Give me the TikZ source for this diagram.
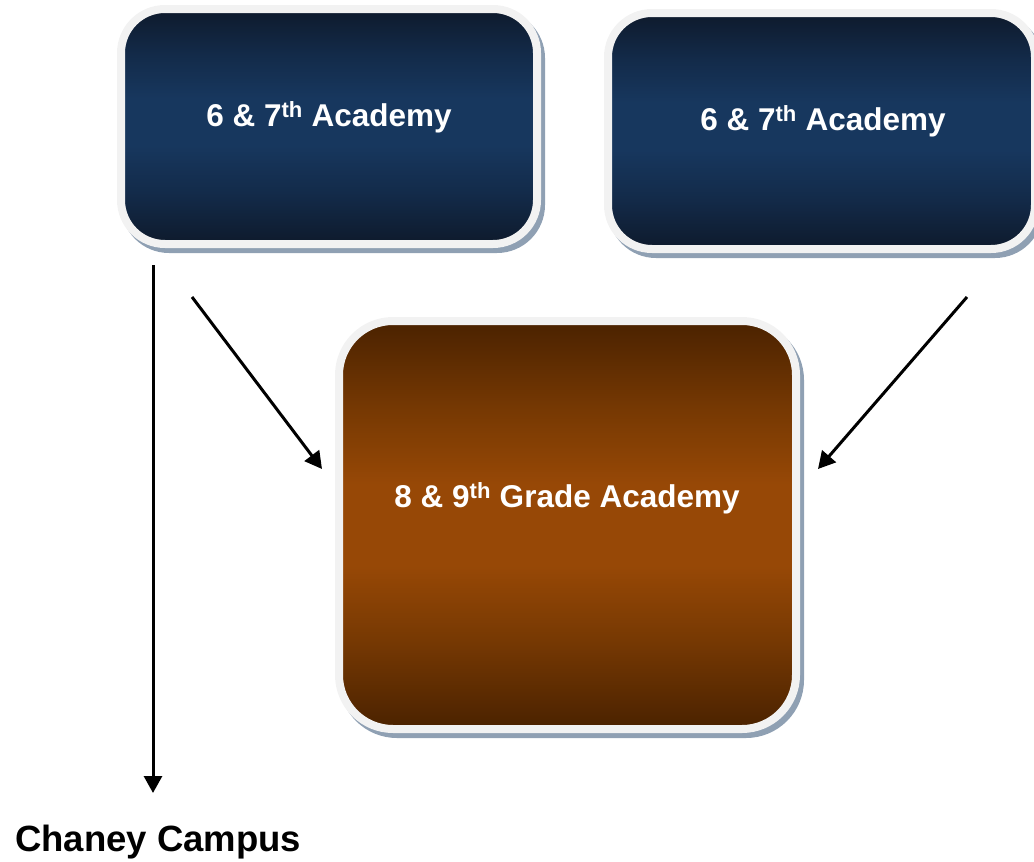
\documentclass[tikz,border=0pt]{standalone}
\usepackage{fontspec}
\setmainfont{Liberation Sans}
\usetikzlibrary{arrows.meta}
\definecolor{bluedark}{HTML}{0E1A2C}
\definecolor{bluequart}{HTML}{132B4A}
\definecolor{bluemid}{HTML}{17375E}
\definecolor{browndark}{HTML}{4A2200}
\definecolor{brownquart}{HTML}{773903}
\definecolor{brownmid}{HTML}{974806}
\definecolor{rimc}{HTML}{F2F2F2}
\definecolor{shadowc}{HTML}{8FA0B3}
\pgfdeclareverticalshading{blueshade}{100bp}{color(0bp)=(bluedark); color(25bp)=(bluedark); color(36bp)=(bluequart); color(46bp)=(bluemid); color(56bp)=(bluemid); color(65bp)=(bluequart); color(75bp)=(bluedark); color(100bp)=(bluedark)}
\pgfdeclareverticalshading{brownshade}{100bp}{color(0bp)=(browndark); color(25bp)=(browndark); color(36bp)=(brownquart); color(45bp)=(brownmid); color(55bp)=(brownmid); color(64bp)=(brownquart); color(75bp)=(browndark); color(100bp)=(browndark)}
\begin{document}
\begin{tikzpicture}[x=1pt,y=-1pt,
  boxbase/.style={rectangle, draw=rimc, line width=8pt, inner sep=0pt},
  bluebox/.style={boxbase, rounded corners=44pt, shading=blueshade},
  brownbox/.style={boxbase, rounded corners=54pt, shading=brownshade},
  shadowfill/.style={fill=shadowc},
  boxtext/.style={text=white, font=\fontsize{31.5}{38}\selectfont\bfseries, inner sep=0pt},
  campustext/.style={text=black, font=\fontsize{36.5}{44}\selectfont\bfseries, inner sep=0pt},
  conn/.style={draw=black, line width=3pt, -{Triangle[width=18pt,length=17pt]}}]
\useasboundingbox (0,0) rectangle (1034,862);
% shadows
\fill[shadowfill, rounded corners=48pt] (121,10) rectangle (545,253);
\fill[shadowfill, rounded corners=48pt] (608,14) rectangle (1043,258);
\fill[shadowfill, rounded corners=58pt] (339,322) rectangle (804,738);
% boxes
\node[bluebox, minimum width=416pt, minimum height=235pt] (b1) at (329,126.5) {};
\node[bluebox, minimum width=427pt, minimum height=236pt] (b2) at (821.5,131) {};
\node[brownbox, minimum width=457pt, minimum height=408pt] (b3) at (567.5,525) {};
% texts
\node[boxtext] (t1) at (329,117) {6 \& 7\textsuperscript{th} Academy};
\node[boxtext] (t2) at (823,121) {6 \& 7\textsuperscript{th} Academy};
\node[boxtext] (t3) at (567,498) {8 \& 9\textsuperscript{th} Grade Academy};
\node[campustext, anchor=base west] (campus) at (15,851) {Chaney Campus};
% connector ends
\coordinate (v1s) at (153,265);
\coordinate (v1e) at (153,793);
\coordinate (d1s) at (192,297);
\coordinate (d1e) at (322,469);
\coordinate (d2s) at (967,297);
\coordinate (d2e) at (818,469);
\draw[conn] (v1s) -- (v1e);
\draw[conn] (d1s) -- (d1e);
\draw[conn] (d2s) -- (d2e);
\end{tikzpicture}
\end{document}
